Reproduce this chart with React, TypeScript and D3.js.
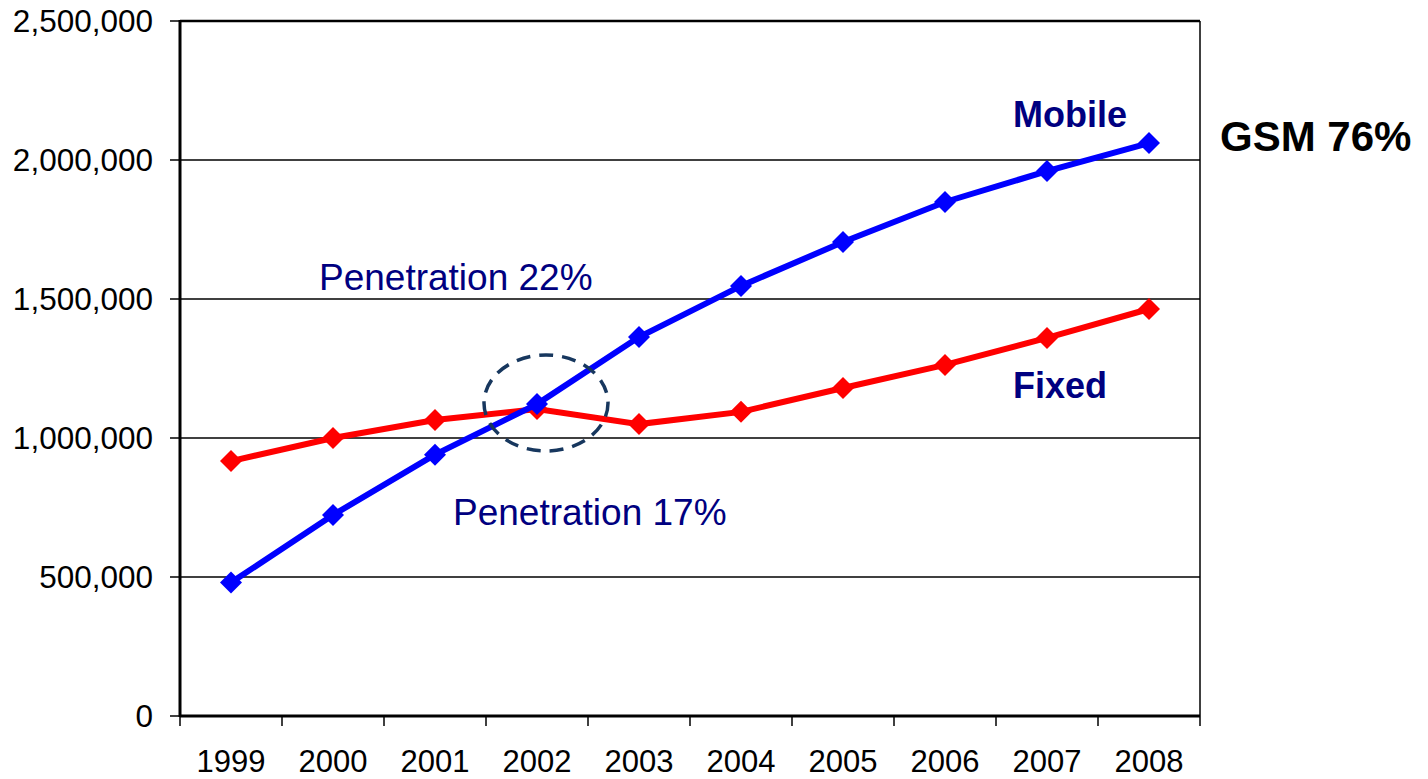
import React from "react";
import * as d3 from "d3";

const years = ["1999", "2000", "2001", "2002", "2003", "2004", "2005", "2006", "2007", "2008"];
const mobile = [480000, 723000, 940000, 1122000, 1363000, 1547000, 1705000, 1849000, 1960000, 2061000];
const fixed = [917000, 1000000, 1065000, 1104000, 1050000, 1094000, 1180000, 1263000, 1360000, 1464000];
const yTicks = [0, 500000, 1000000, 1500000, 2000000, 2500000];

const W = 1428;
const H = 779;
const left = 180;
const right = 1200;
const top = 21;
const bottom = 716;

export default function App() {
  const x = d3.scaleBand<string>().domain(years).range([left, right]).padding(0);
  const y = d3.scaleLinear().domain([0, 2500000]).range([bottom, top]);
  const cx = (d: string) => (x(d) as number) + x.bandwidth() / 2;
  const line = d3
    .line<number>()
    .x((_, i) => cx(years[i]))
    .y((v) => y(v));
  const fmt = d3.format(",");
  const font = "'Liberation Sans', Arial, sans-serif";
  const navy = "#000080";
  const diamond = (px: number, py: number, r: number) =>
    `M${px},${py - r}L${px + r},${py}L${px},${py + r}L${px - r},${py}Z`;

  const boundaries = years.map((d) => x(d) as number).concat([right]);

  return (
    <div style={{ position: "fixed", left: 0, top: 0 }}>
      <svg width={W} height={H} style={{ display: "block", background: "#fff" }}>
        {/* grid lines */}
        {yTicks.slice(1, -1).map((t) => (
          <line key={t} x1={left} x2={right} y1={y(t)} y2={y(t)} stroke="#000" strokeWidth={1.5} />
        ))}
        {/* top border */}
        <line x1={left} x2={right} y1={y(2500000)} y2={y(2500000)} stroke="#000" strokeWidth={2.5} />
        {/* right border */}
        <line x1={right} x2={right} y1={top} y2={bottom} stroke="#000" strokeWidth={1.5} />
        {/* y ticks & labels */}
        {yTicks.map((t) => (
          <g key={t}>
            <line x1={170} x2={left} y1={y(t)} y2={y(t)} stroke="#000" strokeWidth={1.5} />
            <text
              x={153}
              y={y(t)}
              dy="0.36em"
              textAnchor="end"
              fontFamily={font}
              fontSize={31.5}
              fill="#000"
            >
              {fmt(t)}
            </text>
          </g>
        ))}
        {/* x ticks */}
        {boundaries.map((b, i) => (
          <line key={i} x1={b} x2={b} y1={bottom} y2={bottom + 10} stroke="#000" strokeWidth={1.5} />
        ))}
        {years.map((d) => (
          <text key={d} x={cx(d)} y={772} textAnchor="middle" fontFamily={font} fontSize={31} fill="#000">
            {d}
          </text>
        ))}
        {/* axes */}
        <line x1={left} x2={left} y1={top - 1} y2={bottom + 1} stroke="#000" strokeWidth={3} />
        <line x1={left} x2={right} y1={bottom} y2={bottom} stroke="#000" strokeWidth={3} />

        {/* fixed series */}
        <path d={line(fixed) as string} fill="none" stroke="#FF0000" strokeWidth={6} />
        {fixed.map((v, i) => (
          <path key={i} d={diamond(cx(years[i]), y(v), 11)} fill="#FF0000" />
        ))}
        {/* mobile series */}
        <path d={line(mobile) as string} fill="none" stroke="#0000FF" strokeWidth={6} />
        {mobile.map((v, i) => (
          <path key={i} d={diamond(cx(years[i]), y(v), 11)} fill="#0000FF" />
        ))}

        {/* dashed ellipse */}
        <ellipse
          cx={546}
          cy={403}
          rx={62}
          ry={48}
          fill="none"
          stroke="#17375E"
          strokeWidth={3.5}
          strokeDasharray="14 9"
        />

        {/* annotations */}
        <text x={319} y={290} fontFamily={font} fontSize={37} fill={navy}>
          Penetration 22%
        </text>
        <text x={453} y={525} fontFamily={font} fontSize={37} fill={navy}>
          Penetration 17%
        </text>
        <text x={1013} y={127} fontFamily={font} fontSize={36} fontWeight="bold" fill={navy}>
          Mobile
        </text>
        <text x={1013} y={398} fontFamily={font} fontSize={36} fontWeight="bold" fill={navy}>
          Fixed
        </text>
        <text x={1220} y={151} fontFamily={font} fontSize={42} fontWeight="bold" fill="#000">
          GSM 76%
        </text>
      </svg>
    </div>
  );
}
